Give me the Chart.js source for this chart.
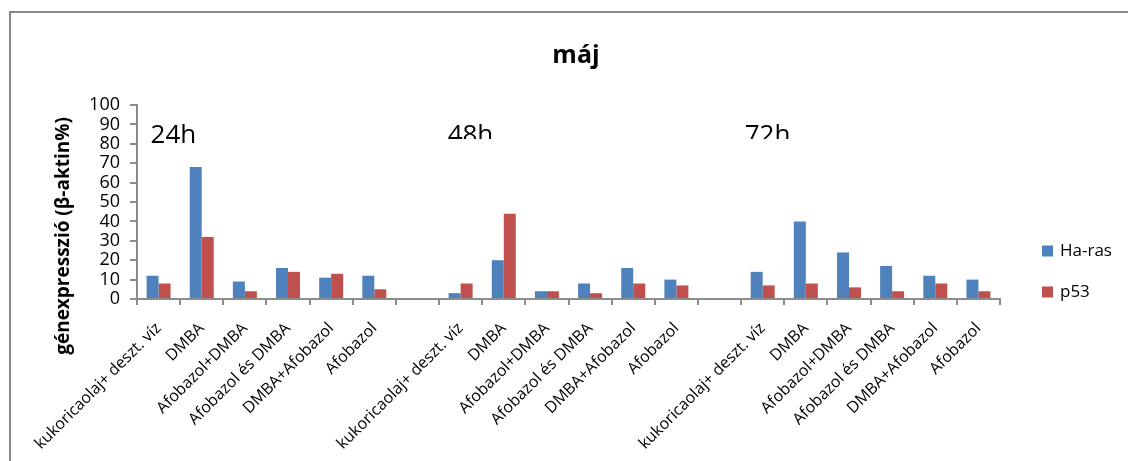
<!DOCTYPE html>
<html lang="hu">
<head>
<meta charset="utf-8">
<title>máj</title>
<script src="https://cdn.jsdelivr.net/npm/chart.js@4.4.1/dist/chart.umd.min.js"></script>
<style>
  html, body { margin: 0; padding: 0; background: #fff; }
  canvas { display: block; }
</style>
</head>
<body>
<canvas id="chart" width="1128" height="461"></canvas>
<script>
// Treatments, repeated for each sampling time
const treatments = ['kukoricaolaj+ deszt. víz', 'DMBA', 'Afobazol+DMBA', 'Afobazol és DMBA', 'DMBA+Afobazol', 'Afobazol'];
const timepoints = ['24h', '48h', '72h'];

// Ha-ras expression (% of β-actin)
const haRas24 = [12, 68, 9, 16, 11, 12];
const haRas48 = [3, 20, 4, 8, 16, 10];
const haRas72 = [14, 40, 24, 17, 12, 10];

// p53 expression (% of β-actin)
const p53_24 = [8, 32, 4, 14, 13, 5];
const p53_48 = [8, 44, 4, 3, 8, 7];
const p53_72 = [7, 8, 6, 4, 8, 4];

const seriesNames = ['Ha-ras', 'p53'];
const seriesColors = ['#4F81BD', '#C0504D'];
const yMin = 0, yMax = 100, yStep = 10;

// One empty category separates the time groups
const categories = [...treatments, '', ...treatments, '', ...treatments];
const haRas = [...haRas24, null, ...haRas48, null, ...haRas72];
const p53 = [...p53_24, null, ...p53_48, null, ...p53_72];
const groupStart = [0, 7, 14];

const FONT = "'Open Sans', 'DejaVu Sans', sans-serif";
const AXIS_GREY = '#8c8c8c';

// Frame, title, time labels, rotated axis title and legend
const decorations = {
  id: 'decorations',
  beforeDraw(chart) {
    const ctx = chart.ctx;
    ctx.save();
    ctx.fillStyle = '#fff';
    ctx.fillRect(0, 0, chart.width, chart.height);
    ctx.strokeStyle = '#898989';
    ctx.lineWidth = 2;
    ctx.beginPath();
    ctx.moveTo(10, chart.height + 5);
    ctx.lineTo(10, 12);
    ctx.lineTo(chart.width + 5, 12);
    ctx.stroke();
    ctx.restore();
  },
  afterDraw(chart) {
    const ctx = chart.ctx;
    const area = chart.chartArea;
    const xs = chart.scales.x;
    ctx.save();
    ctx.fillStyle = '#000';

    // chart title
    ctx.font = `bold 25px ${FONT}`;
    ctx.textAlign = 'center';
    ctx.textBaseline = 'alphabetic';
    ctx.fillText('máj', 576, 63);

    // time-point labels above each group
    const offsets = [-8, -13, -18];
    const clipBottom = [null, 139, 139];
    ctx.font = `26px ${FONT}`;
    ctx.textAlign = 'left';
    timepoints.forEach((t, i) => {
      const x = xs.getPixelForValue(groupStart[i]) + offsets[i];
      ctx.save();
      if (clipBottom[i] !== null) {
        ctx.beginPath();
        ctx.rect(x - 5, 0, 80, clipBottom[i]);
        ctx.clip();
      }
      ctx.fillText(t, x, 143);
      ctx.restore();
    });

    // y-axis title
    ctx.save();
    ctx.translate(64, 236);
    ctx.rotate(-Math.PI / 2);
    ctx.font = `bold 19px ${FONT}`;
    ctx.textAlign = 'center';
    ctx.textBaseline = 'middle';
    ctx.fillText('génexpresszió (β-aktin%)', 0, 0);
    ctx.restore();

    // legend
    const midY = chart.height / 2 + 41;
    const rows = [midY - 20.5, midY + 20.5];
    ctx.font = `17px ${FONT}`;
    ctx.textBaseline = 'middle';
    ctx.textAlign = 'left';
    chart.data.datasets.forEach((ds, i) => {
      const y = rows[i];
      ctx.fillStyle = ds.backgroundColor;
      ctx.fillRect(area.right + 42, y - 5.5, 11, 11);
      ctx.fillStyle = '#000';
      ctx.fillText(ds.label, area.right + 60, y);
    });
    ctx.restore();
  }
};

function build() {
  new Chart(document.getElementById('chart'), {
    type: 'bar',
    data: {
      labels: categories,
      datasets: [
        { label: seriesNames[0], data: haRas, backgroundColor: seriesColors[0] },
        { label: seriesNames[1], data: p53, backgroundColor: seriesColors[1] }
      ]
    },
    options: {
      responsive: false,
      animation: false,
      devicePixelRatio: 1,
      categoryPercentage: 0.556,
      barPercentage: 1,
      layout: { padding: { top: 105, right: 128, left: 0, bottom: 0 } },
      plugins: {
        legend: { display: false },
        tooltip: { enabled: false },
        title: { display: false }
      },
      scales: {
        x: {
          offset: true,
          grid: { display: true, offset: true, drawOnChartArea: false, drawTicks: true, tickLength: 6, color: AXIS_GREY, lineWidth: 2 },
          border: { color: AXIS_GREY, width: 2 },
          ticks: {
            autoSkip: false,
            minRotation: 45,
            maxRotation: 45,
            padding: 14,
            color: '#000',
            font: { family: FONT, size: 16 }
          },
          afterFit(scale) { scale.height = 162; }
        },
        y: {
          min: yMin,
          max: yMax,
          grid: { display: true, drawOnChartArea: false, drawTicks: true, tickLength: 7, color: AXIS_GREY, lineWidth: 2 },
          border: { color: AXIS_GREY, width: 2 },
          ticks: {
            stepSize: yStep,
            autoSkip: false,
            padding: 10,
            color: '#000',
            font: { family: FONT, size: 18 }
          },
          afterFit(scale) { scale.width = 137; }
        }
      }
    },
    plugins: [decorations]
  });
}

Promise.all([
  document.fonts.load(`16px 'Open Sans'`),
  document.fonts.load(`bold 16px 'Open Sans'`)
]).then(build, build);
</script>
</body>
</html>
